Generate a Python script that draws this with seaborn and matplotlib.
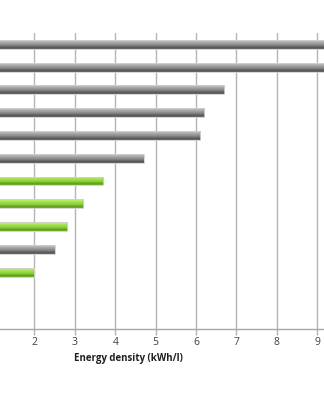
import numpy as np
import pandas as pd
import matplotlib
matplotlib.use("Agg")
import matplotlib.pyplot as plt
from matplotlib.colors import LinearSegmentedColormap
import seaborn as sns

# Energy density per technology (kWh/l), top to bottom
technologies = ["T1", "T2", "T3", "T4", "T5", "T6", "T7",
                "T8", "T9", "T10", "T11", "T12", "T13"]
energy_density = [10.7, 9.7, 6.7, 6.2, 6.1, 4.7, 3.7,
                  3.2, 2.8, 2.5, 2.0, 0.9, 0.5]
bar_group = ["grey", "grey", "grey", "grey", "grey", "grey", "green",
             "green", "green", "grey", "green", "grey", "grey"]
x_ticks = [2, 3, 4, 5, 6, 7, 8, 9]

df = pd.DataFrame({"technology": technologies,
                   "density": energy_density,
                   "group": bar_group})

sns.set_style("white")
plt.rcParams["font.family"] = ["Open Sans", "DejaVu Sans"]

fig = plt.figure(figsize=(3.24, 4.00), dpi=100)
ax = fig.add_axes([-0.1429, 0.1775, 1.2469, 0.74])

base = {"grey": "#8a8a8a", "green": "#8fd43a"}
sns.barplot(data=df, y="technology", x="density", hue="group",
            palette=base, orient="h", width=0.39, legend=False,
            order=technologies, ax=ax, edgecolor="none")

cmaps = {
    "grey": LinearSegmentedColormap.from_list(
        "cyl_grey", [(0, "#c8c8c8"), (0.3, "#a6a6a6"), (0.6, "#828282"),
                     (0.85, "#525252"), (1, "#707070")]),
    "green": LinearSegmentedColormap.from_list(
        "cyl_green", [(0, "#c9f386"), (0.3, "#a3e250"), (0.6, "#8ccf38"),
                      (0.85, "#5c9a1e"), (1, "#7ab232")]),
}

ax.set_xlim(0, 10)
ylim = ax.get_ylim()
grad = np.linspace(0, 1, 64).reshape(-1, 1)

# cylinder-like shading clipped to each bar
for patch in ax.patches:
    y0 = patch.get_y()
    h = patch.get_height()
    w = patch.get_width()
    if w <= 0:
        continue
    idx = int(round(y0 + h / 2))
    grp = bar_group[idx]
    im = ax.imshow(grad, cmap=cmaps[grp], aspect="auto", origin="upper",
                   extent=(patch.get_x(), patch.get_x() + w, y0 + h, y0),
                   interpolation="bilinear", zorder=3)
    im.set_clip_path(patch)
    patch.set_facecolor("none")
    patch.set_edgecolor("#d0d0d0")
    patch.set_linewidth(0.6)
    patch.set_zorder(4)

ax.set_xlim(0, 10)
ax.set_ylim(ylim)

ax.set_xticks(x_ticks)
ax.set_xticklabels([str(t) for t in x_ticks])
ax.grid(axis="x", color="#b5b5b5", linewidth=1.0)
ax.grid(axis="y", visible=False)
ax.set_axisbelow(True)
ax.set_yticks([])
ax.set_ylabel("")

for side in ["top", "right", "left"]:
    ax.spines[side].set_visible(False)
ax.spines["bottom"].set_color("#a8a8a8")
ax.spines["bottom"].set_linewidth(1.0)

ax.tick_params(axis="x", direction="out", length=4, width=1.0,
               color="#b5b5b5", labelsize=7.5, labelcolor="#404040", pad=2,
               bottom=True)

ax.set_xlabel("Energy density (kWh/l)", fontsize=7, fontweight="bold",
              color="#202020")
ax.xaxis.set_label_coords((128 + 46.3) / 404, -0.082)

fig.savefig("out.png", dpi=100)
